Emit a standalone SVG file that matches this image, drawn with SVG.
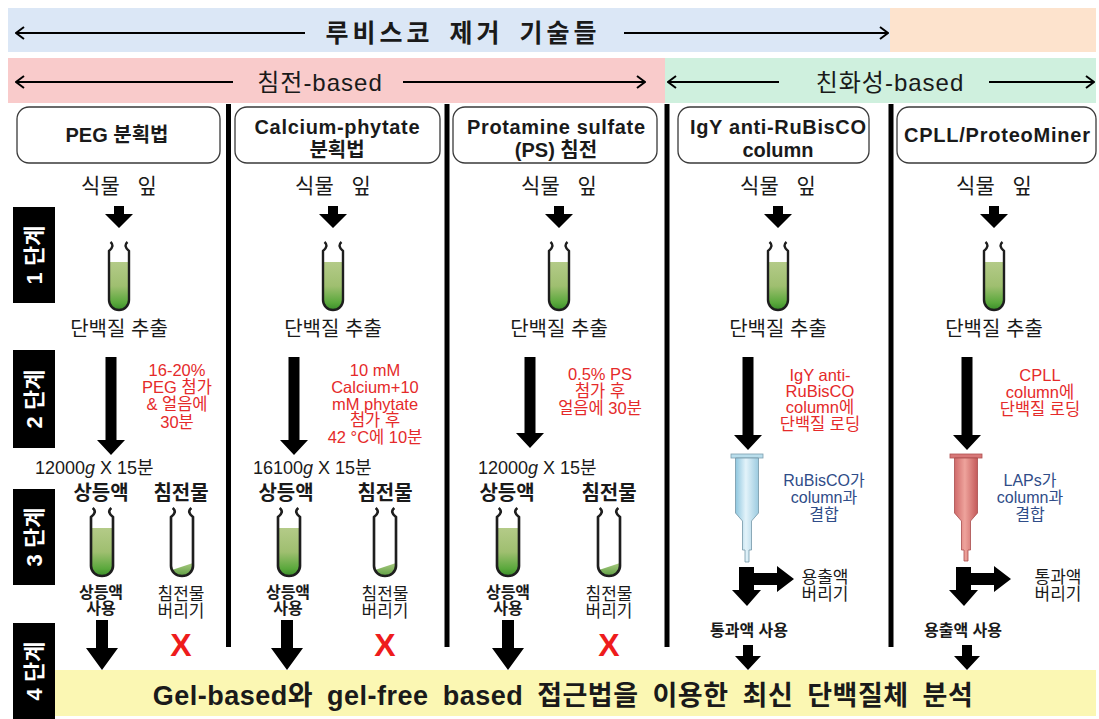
<svg xmlns="http://www.w3.org/2000/svg" width="1099" height="719" viewBox="0 0 1099 719">
<defs>
<style>
  text { font-family: 'Liberation Sans', 'Noto Sans CJK KR', sans-serif; fill: #1a1a1a; }
  .band-b { font-size: 25px; font-weight: bold; text-anchor: middle; letter-spacing: 4px; word-spacing: 5px; }
  .band-t { font-size: 24px; text-anchor: middle; letter-spacing: 1px; }
  .hbox { fill: #fff; stroke: #3a3a3a; stroke-width: 1.3; }
  .hdr { font-size: 20px; font-weight: bold; text-anchor: middle; }
  .lbl { font-size: 20px; text-anchor: middle; }
  .leaf { font-size: 21px; text-anchor: middle; word-spacing: 12px; }
  .red { font-size: 16.5px; fill: #e52a2a; text-anchor: middle; }
  .navy { font-size: 16px; fill: #2f4c88; text-anchor: middle; }
  .small { font-size: 17px; text-anchor: middle; }
  .smallb { font-size: 16px; font-weight: bold; text-anchor: middle; }
  .sub { font-size: 20px; font-weight: bold; text-anchor: middle; }
  .spin { font-size: 18px; }
  .x { font-size: 32px; font-weight: bold; fill: #ee1c1c; text-anchor: middle; }
  .blk { fill: #000; }
  .stage-t { font-size: 22px; font-weight: bold; fill: #fff; text-anchor: middle; }
  .thin { stroke: #000; stroke-width: 2; fill: none; }
  .final { font-size: 27px; font-weight: bold; text-anchor: middle; word-spacing: 6px; letter-spacing: 0.5px; }
</style>
<marker id="oa" viewBox="0 0 10 14" refX="9" refY="7" markerWidth="10" markerHeight="14" markerUnits="userSpaceOnUse" orient="auto">
  <path d="M1,1 L9,7 L1,13" fill="none" stroke="#000" stroke-width="2"/>
</marker>
<linearGradient id="liq" x1="0" y1="0" x2="0" y2="1">
  <stop offset="0" stop-color="#b4cb88"/>
  <stop offset="0.5" stop-color="#9fbf70"/>
  <stop offset="0.85" stop-color="#5aa83c"/>
  <stop offset="1" stop-color="#3a8e2a"/>
</linearGradient>
<linearGradient id="pel" x1="0" y1="0" x2="0" y2="1">
  <stop offset="0" stop-color="#a9ca80"/>
  <stop offset="1" stop-color="#5d9e42"/>
</linearGradient>
<linearGradient id="blueCol" x1="0" y1="0" x2="1" y2="0">
  <stop offset="0" stop-color="#8ec6de"/>
  <stop offset="0.45" stop-color="#e3f3fa"/>
  <stop offset="1" stop-color="#9ccbe0"/>
</linearGradient>
<linearGradient id="redCol" x1="0" y1="0" x2="1" y2="0">
  <stop offset="0" stop-color="#cf6a6a"/>
  <stop offset="0.45" stop-color="#eea39c"/>
  <stop offset="1" stop-color="#c45a5a"/>
</linearGradient>
<!-- test tube with green extract, origin at top centre -->
<g id="tube">
  <path d="M-10,20 L-10,58 A10,10 0 0 0 10,58 L10,20 Z" fill="url(#liq)"/>
  <path d="M-8.5,0 Q-4,4 -10,9 L-10,58 A10,10 0 0 0 10,58 L10,9 Q4,4 8.5,0" fill="none" stroke="#1e1e1e" stroke-width="2.4"/>
</g>
<!-- test tube with a small pellet -->
<g id="tube-pellet">
  <path d="M-9.2,62 L10,55 L10,58 A10,10 0 0 1 -9.2,62 Z" fill="url(#pel)"/>
  <path d="M-8.5,0 Q-4,4 -10,9 L-10,58 A10,10 0 0 0 10,58 L10,9 Q4,4 8.5,0" fill="none" stroke="#1e1e1e" stroke-width="2.4"/>
</g>
</defs>

<rect width="1099" height="719" fill="#fff"/>

<!-- banners -->
<g id="banner-all">
  <rect x="8" y="8" width="882" height="44" fill="#dbe7f6"/>
  <rect x="890" y="8" width="206" height="44" fill="#fde3cd"/>
  <line x1="305" y1="33" x2="16" y2="33" class="thin" marker-end="url(#oa)"/>
  <line x1="624" y1="33" x2="888" y2="33" class="thin" marker-end="url(#oa)"/>
  <text x="463" y="42" class="band-b">루비스코 제거 기술들</text>
</g>
<g id="banner-precip">
  <rect x="8" y="58" width="657" height="45" fill="#f9cbcb"/>
  <line x1="233" y1="82" x2="16" y2="82" class="thin" marker-end="url(#oa)"/>
  <line x1="403" y1="82" x2="645" y2="82" class="thin" marker-end="url(#oa)"/>
  <text x="320" y="91" class="band-t">침전-based</text>
</g>
<g id="banner-affinity">
  <rect x="665" y="58" width="431" height="45" fill="#cff0de"/>
  <line x1="779" y1="82" x2="668" y2="82" class="thin" marker-end="url(#oa)"/>
  <line x1="989" y1="82" x2="1094" y2="82" class="thin" marker-end="url(#oa)"/>
  <text x="890" y="91" class="band-t">친화성-based</text>
</g>

<!-- column separators -->
<g id="separators" class="blk">
  <rect x="226" y="104" width="5" height="543"/>
  <rect x="444.5" y="104" width="5" height="543"/>
  <rect x="664.5" y="104" width="5" height="543"/>
  <rect x="888.5" y="104" width="5" height="543"/>
</g>

<!-- stage labels -->
<g id="stages">
  <rect x="13" y="207" width="42" height="96" class="blk"/>
  <text transform="translate(34,255) rotate(-90)" y="8" class="stage-t">1 단계</text>
  <rect x="13" y="350" width="42" height="98" class="blk"/>
  <text transform="translate(34,399) rotate(-90)" y="8" class="stage-t">2 단계</text>
  <rect x="13" y="489" width="42" height="96" class="blk"/>
  <text transform="translate(34,537) rotate(-90)" y="8" class="stage-t">3 단계</text>
  <rect x="13" y="623" width="42" height="96" class="blk"/>
  <text transform="translate(34,671) rotate(-90)" y="8" class="stage-t">4 단계</text>
</g>

<!-- method 1: PEG -->
<g id="peg">
  <rect x="17" y="107" width="203" height="56" rx="12" class="hbox"/>
  <text x="117" y="142" class="hdr">PEG 분획법</text>
  <text x="119" y="193" class="leaf">식물 잎</text>
  <use href="#tube" x="119" y="242"/>
  <text x="119" y="336" class="lbl">단백질 추출</text>
  <text class="red"><tspan x="177" y="376">16-20%</tspan><tspan x="177" y="393">PEG 첨가</tspan><tspan x="177" y="410">&amp; 얼음에</tspan><tspan x="177" y="428">30분</tspan></text>
  <text x="35" y="474" class="spin">12000<tspan font-style="italic">g</tspan> X 15분</text>
  <text x="101" y="500" class="sub">상등액</text>
  <text x="181" y="500" class="sub">침전물</text>
  <use href="#tube" transform="translate(102,508) scale(1.1,1)"/>
  <use href="#tube-pellet" transform="translate(182,508) scale(1.1,1)"/>
  <text class="smallb"><tspan x="101" y="598">상등액</tspan><tspan x="101" y="614">사용</tspan></text>
  <text class="small"><tspan x="181" y="600">침전물</tspan><tspan x="181" y="617">버리기</tspan></text>
  <text x="181" y="656" class="x">X</text>
</g>

<!-- method 2: calcium-phytate -->
<g id="calcium-phytate">
  <rect x="235" y="107" width="205" height="56" rx="12" class="hbox"/>
  <text x="337" y="134" class="hdr" textLength="165" lengthAdjust="spacing">Calcium-phytate</text>
  <text x="337" y="157" class="hdr">분획법</text>
  <text x="333" y="193" class="leaf">식물 잎</text>
  <use href="#tube" x="333" y="242"/>
  <text x="333" y="336" class="lbl">단백질 추출</text>
  <text class="red"><tspan x="375" y="376">10 mM</tspan><tspan x="375" y="393">Calcium+10</tspan><tspan x="375" y="410">mM phytate</tspan><tspan x="375" y="426">첨가 후</tspan><tspan x="375" y="443">42 °C에 10분</tspan></text>
  <text x="253" y="474" class="spin">16100<tspan font-style="italic">g</tspan> X 15분</text>
  <text x="286" y="500" class="sub">상등액</text>
  <text x="385" y="500" class="sub">침전물</text>
  <use href="#tube" transform="translate(289,508) scale(1.1,1)"/>
  <use href="#tube-pellet" transform="translate(385,508) scale(1.1,1)"/>
  <text class="smallb"><tspan x="288" y="598">상등액</tspan><tspan x="288" y="614">사용</tspan></text>
  <text class="small"><tspan x="385" y="600">침전물</tspan><tspan x="385" y="617">버리기</tspan></text>
  <text x="385" y="656" class="x">X</text>
</g>

<!-- method 3: protamine sulfate -->
<g id="protamine-sulfate">
  <rect x="453" y="107" width="204" height="56" rx="12" class="hbox"/>
  <text x="556" y="134" class="hdr" textLength="178" lengthAdjust="spacing">Protamine sulfate</text>
  <text x="556" y="157" class="hdr">(PS) 침전</text>
  <text x="559" y="193" class="leaf">식물 잎</text>
  <use href="#tube" x="559" y="242"/>
  <text x="559" y="336" class="lbl">단백질 추출</text>
  <text class="red"><tspan x="600" y="380">0.5% PS</tspan><tspan x="600" y="397">첨가 후</tspan><tspan x="600" y="414">얼음에 30분</tspan></text>
  <text x="478" y="474" class="spin">12000<tspan font-style="italic">g</tspan> X 15분</text>
  <text x="507" y="500" class="sub">상등액</text>
  <text x="609" y="500" class="sub">침전물</text>
  <use href="#tube" transform="translate(508,508) scale(1.1,1)"/>
  <use href="#tube-pellet" transform="translate(609,508) scale(1.1,1)"/>
  <text class="smallb"><tspan x="508" y="598">상등액</tspan><tspan x="508" y="614">사용</tspan></text>
  <text class="small"><tspan x="609" y="600">침전물</tspan><tspan x="609" y="617">버리기</tspan></text>
  <text x="609" y="656" class="x">X</text>
</g>

<!-- method 4: IgY anti-RuBisCO column -->
<g id="igy-column">
  <rect x="678" y="107" width="191" height="56" rx="12" class="hbox"/>
  <text x="778" y="134" class="hdr" textLength="176" lengthAdjust="spacing">IgY anti-RuBisCO</text>
  <text x="778" y="157" class="hdr">column</text>
  <text x="778" y="193" class="leaf">식물 잎</text>
  <use href="#tube" x="778" y="242"/>
  <text x="778" y="336" class="lbl">단백질 추출</text>
  <text class="red"><tspan x="820" y="381">IgY anti-</tspan><tspan x="820" y="397">RuBisCO</tspan><tspan x="820" y="413">column에</tspan><tspan x="820" y="430">단백질 로딩</tspan></text>
  <rect x="731" y="454" width="32" height="4" fill="#b9deec" stroke="#7d9fae" stroke-width="0.8"/>
  <path d="M735.5,458 H758.5 V513 L751.5,521 V550 H749 V562 H745 V550 H742.5 V521 L735.5,513 Z" fill="url(#blueCol)" stroke="#7597a7" stroke-width="0.8"/>
  <text class="navy"><tspan x="824" y="486">RuBisCO가</tspan><tspan x="824" y="503">column과</tspan><tspan x="824" y="520">결합</tspan></text>
  <path class="blk" d="M739,567 L754,567 L754,573 L777,573 L777,566 L794,579 L777,592 L777,585 L754,585 L754,590 L761,590 L747,606 L732,590 L739,590 Z"/>
  <text class="small"><tspan x="825" y="583">용출액</tspan><tspan x="825" y="600">버리기</tspan></text>
  <text x="749" y="636" class="smallb">통과액 사용</text>
</g>

<!-- method 5: CPLL / ProteoMiner -->
<g id="cpll">
  <rect x="897" y="107" width="199" height="56" rx="12" class="hbox"/>
  <text x="997" y="142" class="hdr" textLength="186" lengthAdjust="spacing">CPLL/ProteoMiner</text>
  <text x="994" y="193" class="leaf">식물 잎</text>
  <use href="#tube" x="994" y="242"/>
  <text x="994" y="336" class="lbl">단백질 추출</text>
  <text class="red"><tspan x="1040" y="381">CPLL</tspan><tspan x="1040" y="398">column에</tspan><tspan x="1040" y="415">단백질 로딩</tspan></text>
  <rect x="950" y="454" width="32" height="4" fill="#d87878" stroke="#b05050" stroke-width="0.8"/>
  <path d="M954.5,458 H977.5 V513 L970.5,521 V550 H968 V561 H964 V550 H961.5 V521 L954.5,513 Z" fill="url(#redCol)" stroke="#a84c4c" stroke-width="0.8"/>
  <text class="navy"><tspan x="1030" y="486">LAPs가</tspan><tspan x="1030" y="503">column과</tspan><tspan x="1030" y="520">결합</tspan></text>
  <path class="blk" d="M956,567 L971,567 L971,573 L994,573 L994,566 L1011,579 L994,592 L994,585 L971,585 L971,590 L978,590 L964,606 L949,590 L956,590 Z"/>
  <text class="small"><tspan x="1058" y="583">통과액</tspan><tspan x="1058" y="600">버리기</tspan></text>
  <text x="963" y="636" class="smallb">용출액 사용</text>
</g>

<!-- flow arrows -->
<g id="connectors" class="blk">
  <path d="M114,206 H124 V214 H133 L119,228 L105,214 H114 Z"/>
  <path d="M328,206 H338 V214 H347 L333,228 L319,214 H328 Z"/>
  <path d="M554,206 H564 V214 H573 L559,228 L545,214 H554 Z"/>
  <path d="M773,206 H783 V214 H792 L778,228 L764,214 H773 Z"/>
  <path d="M989,206 H999 V214 H1008 L994,228 L980,214 H989 Z"/>
  <path d="M105.5,357 H116.5 V440 H125 L111,455 L97,440 H105.5 Z"/>
  <path d="M288.5,357 H299.5 V440 H308 L294,455 L280,440 H288.5 Z"/>
  <path d="M524.5,357 H535.5 V433 H544 L530,448 L516,433 H524.5 Z"/>
  <path d="M742.5,357 H753.5 V435 H762 L748,450 L734,435 H742.5 Z"/>
  <path d="M961.5,357 H972.5 V435 H981 L967,450 L953,435 H961.5 Z"/>
  <path d="M96,620 H108 V648 H118 L102,670 L86,648 H96 Z"/>
  <path d="M281,620 H293 V648 H303 L287,670 L271,648 H281 Z"/>
  <path d="M502,620 H514 V648 H524 L508,670 L492,648 H502 Z"/>
  <path d="M743,645 H753 V656 H761 L748,670 L735,656 H743 Z"/>
  <path d="M962,645 H972 V656 H980 L967,670 L954,656 H962 Z"/>
</g>

<!-- final analysis step -->
<g id="analysis">
  <rect x="55" y="670" width="1041" height="46" fill="#fbf7b3"/>
  <text x="563" y="705" class="final">Gel-based와 gel-free based 접근법을 이용한 최신 단백질체 분석</text>
</g>
</svg>
